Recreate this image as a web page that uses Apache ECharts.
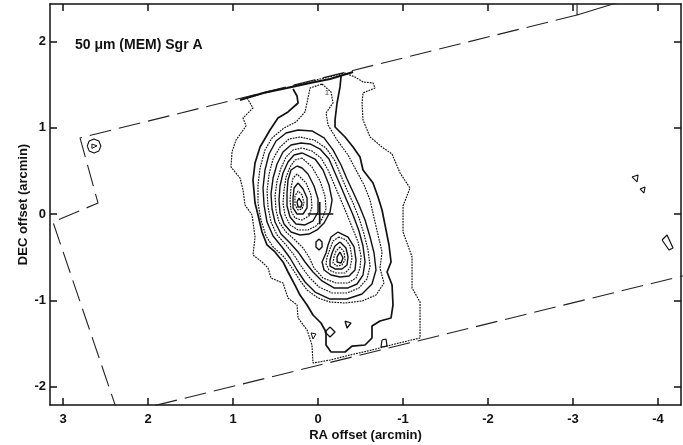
<!DOCTYPE html>
<html>
<head>
<meta charset="utf-8">
<script src="https://cdn.jsdelivr.net/npm/echarts@6/dist/echarts.min.js"></script>
<style>
  html, body { margin: 0; padding: 0; background: #fff; }
  #chart { width: 683px; height: 445px; }
</style>
</head>
<body>
<div id="chart"></div>
<script>
// Axis ticks and extents (arcmin offsets from Sgr A*)
const raTicks = [3, 2, 1, 0, -1, -2, -3, -4];
const decTicks = [2, 1, 0, -1, -2];
const raRange = [-4.27, 3.153];
const decRange = [-2.213, 2.433];

// Edge of the mapped field (dashed outline)
const fieldEdge = [[-3.047, 2.306], [2.80, 0.881], [2.588, 0.127], [3.118, -0.093], [2.349, -2.323], [-4.494, -0.667]];
const fieldCorner = [[-3.047, 2.60], [-3.047, 2.306], [-3.47, 2.433], [-3.65, 2.49]];

// Contours of 50 micron emission, outermost first: [RA, DEC]
const level1 = [[0.835,1.344],[0.765,1.228],[0.882,1.112],[0.847,1.020],[0.965,0.857],[1.012,0.718],[1.024,0.545],[0.918,0.417],[0.882,0.278],[0.859,0.104],[0.776,-0.012],[0.741,-0.267],[0.765,-0.475],[0.659,-0.556],[0.588,-0.626],[0.553,-0.742],[0.412,-0.800],[0.353,-0.973],[0.247,-1.054],[0.235,-1.205],[0.129,-1.344],[0.071,-1.518],[0.059,-1.727],[-0.141,-1.692],[-0.376,-1.634],[-0.635,-1.576],[-0.906,-1.506],[-1.2,-1.437],[-1.2,-1.020],[-1.106,-0.857],[-1.106,-0.498],[-1.0,-0.209],[-1.0,0.093],[-1.082,0.301],[-0.965,0.475],[-0.871,0.695],[-0.753,0.776],[-0.612,0.892],[-0.529,1.089],[-0.518,1.286],[-0.529,1.402],[-0.671,1.460],[-0.647,1.518],[-0.529,1.530],[-0.435,1.587],[-0.318,1.634],[-0.024,1.564],[0.329,1.472],[0.624,1.402]];
const edgeRidge = [[0.918,1.321],[0.647,1.402],[0.365,1.460],[0.094,1.518],[-0.141,1.564],[-0.412,1.645]];
const level2 = [[0.294,1.448],[0.247,1.367],[0.235,1.286],[0.353,1.182],[0.471,1.112],[0.565,0.973],[0.682,0.776],[0.741,0.591],[0.765,0.394],[0.741,0.127],[0.706,-0.012],[0.659,-0.209],[0.600,-0.359],[0.506,-0.440],[0.412,-0.556],[0.353,-0.672],[0.271,-0.823],[0.212,-0.939],[0.129,-1.054],[0.059,-1.170],[-0.035,-1.263],[-0.094,-1.367],[-0.094,-1.518],[-0.153,-1.599],[-0.318,-1.599],[-0.4,-1.530],[-0.553,-1.518],[-0.635,-1.437],[-0.635,-1.298],[-0.729,-1.240],[-0.859,-1.205],[-0.882,-1.054],[-0.871,-0.823],[-0.812,-0.672],[-0.859,-0.556],[-0.835,-0.359],[-0.788,-0.127],[-0.753,0.046],[-0.706,0.197],[-0.647,0.359],[-0.529,0.510],[-0.494,0.660],[-0.412,0.776],[-0.318,0.892],[-0.2,1.008],[-0.2,1.089],[-0.224,1.286],[-0.259,1.472],[-0.271,1.599]];
const level3 = [[-0.047,1.506],[-0.153,1.414],[-0.176,1.286],[-0.094,1.170],[-0.118,1.031],[-0.224,0.857],[-0.353,0.684],[-0.447,0.510],[-0.541,0.336],[-0.612,0.162],[-0.659,-0.046],[-0.706,-0.243],[-0.753,-0.440],[-0.729,-0.626],[-0.776,-0.800],[-0.682,-0.939],[-0.518,-1.008],[-0.318,-1.031],[-0.141,-1.020],[0,-0.973],[0.129,-0.881],[0.224,-0.753],[0.306,-0.626],[0.4,-0.498],[0.529,-0.382],[0.612,-0.255],[0.671,-0.070],[0.706,0.127],[0.706,0.336],[0.682,0.533],[0.624,0.742],[0.541,0.881],[0.4,0.997],[0.259,1.066],[0.153,1.182],[0.118,1.344],[0.094,1.460]];
const level4 = [[0.235,0.973],[0.376,0.939],[0.494,0.846],[0.576,0.695],[0.624,0.510],[0.647,0.301],[0.635,0.104],[0.600,-0.093],[0.529,-0.255],[0.424,-0.382],[0.329,-0.510],[0.247,-0.649],[0.153,-0.788],[0.035,-0.904],[-0.141,-0.985],[-0.341,-0.985],[-0.518,-0.927],[-0.635,-0.811],[-0.682,-0.649],[-0.659,-0.452],[-0.612,-0.267],[-0.553,-0.070],[-0.482,0.104],[-0.412,0.255],[-0.341,0.406],[-0.271,0.568],[-0.176,0.742],[-0.071,0.881],[0.071,0.962]];
const level5 = [[0.212,0.892],[0.341,0.869],[0.447,0.776],[0.529,0.637],[0.576,0.463],[0.600,0.267],[0.588,0.081],[0.553,-0.093],[0.482,-0.243],[0.376,-0.359],[0.282,-0.475],[0.200,-0.603],[0.106,-0.730],[-0.012,-0.846],[-0.165,-0.915],[-0.341,-0.915],[-0.482,-0.857],[-0.576,-0.753],[-0.612,-0.603],[-0.588,-0.417],[-0.541,-0.232],[-0.482,-0.046],[-0.412,0.127],[-0.341,0.278],[-0.271,0.440],[-0.2,0.614],[-0.094,0.765],[0.047,0.857]];
const level6 = [[0.200,0.823],[0.318,0.800],[0.412,0.718],[0.482,0.579],[0.529,0.417],[0.553,0.232],[0.541,0.058],[0.506,-0.093],[0.435,-0.232],[0.329,-0.336],[0.235,-0.440],[0.153,-0.556],[0.059,-0.672],[-0.047,-0.776],[-0.188,-0.857],[-0.353,-0.857],[-0.459,-0.811],[-0.529,-0.707],[-0.553,-0.556],[-0.529,-0.371],[-0.482,-0.197],[-0.412,-0.012],[-0.341,0.151],[-0.271,0.313],[-0.2,0.475],[-0.129,0.637],[-0.024,0.753],[0.094,0.811]];
const level7 = [[0.188,0.765],[0.294,0.742],[0.376,0.660],[0.435,0.533],[0.482,0.382],[0.506,0.209],[0.494,0.046],[0.459,-0.093],[0.376,-0.209],[0.271,-0.301],[0.176,-0.394],[0.106,-0.498],[0.047,-0.626],[-0.059,-0.742],[-0.212,-0.800],[-0.353,-0.800],[-0.447,-0.742],[-0.494,-0.626],[-0.506,-0.487],[-0.471,-0.324],[-0.4,-0.151],[-0.329,0.023],[-0.259,0.185],[-0.188,0.348],[-0.118,0.510],[-0.035,0.649],[0.071,0.730]];

// Northern peak
const north1 = [[0.188,0.707],[0.282,0.684],[0.353,0.603],[0.412,0.475],[0.447,0.324],[0.459,0.162],[0.447,0.012],[0.400,-0.116],[0.318,-0.209],[0.212,-0.243],[0.106,-0.232],[0.012,-0.185],[-0.071,-0.104],[-0.141,0.023],[-0.165,0.162],[-0.129,0.336],[-0.059,0.510],[0.035,0.637]];
const north2 = [[0.188,0.649],[0.271,0.626],[0.329,0.545],[0.376,0.429],[0.400,0.278],[0.412,0.127],[0.388,-0.012],[0.329,-0.127],[0.235,-0.185],[0.118,-0.185],[0.024,-0.139],[-0.047,-0.058],[-0.094,0.058],[-0.082,0.209],[-0.024,0.382],[0.071,0.545]];
const north3 = [[0.247,0.556],[0.318,0.510],[0.353,0.394],[0.365,0.243],[0.365,0.093],[0.329,-0.035],[0.259,-0.116],[0.153,-0.127],[0.059,-0.081],[0,0.023],[0,0.174],[0.047,0.324],[0.118,0.463],[0.188,0.533]];
const north4 = [[0.247,0.463],[0.294,0.417],[0.318,0.301],[0.329,0.162],[0.318,0.035],[0.271,-0.046],[0.188,-0.070],[0.106,-0.023],[0.071,0.081],[0.082,0.220],[0.141,0.359]];
const north5 = [[0.235,0.359],[0.282,0.301],[0.294,0.185],[0.294,0.070],[0.247,0],[0.176,0],[0.129,0.070],[0.129,0.185],[0.176,0.290]];
const north6 = [[0.235,0.267],[0.271,0.209],[0.271,0.104],[0.235,0.046],[0.188,0.058],[0.165,0.127],[0.188,0.220]];
const north7 = [[0.224,0.185],[0.247,0.139],[0.235,0.081],[0.200,0.081],[0.188,0.127]];

// Saddle island between the peaks
const saddle = [[-0.012,-0.290],[0.024,-0.324],[0.024,-0.382],[-0.012,-0.417],[-0.047,-0.382],[-0.047,-0.324]];

// Southern peak
const south1 = [[-0.235,-0.209],[-0.153,-0.267],[-0.118,-0.359],[-0.094,-0.452],[-0.047,-0.556],[-0.071,-0.649],[-0.153,-0.707],[-0.259,-0.730],[-0.365,-0.718],[-0.435,-0.649],[-0.447,-0.533],[-0.424,-0.382],[-0.353,-0.267]];
const south2 = [[-0.247,-0.267],[-0.176,-0.313],[-0.141,-0.406],[-0.106,-0.498],[-0.094,-0.579],[-0.129,-0.649],[-0.212,-0.684],[-0.318,-0.684],[-0.376,-0.626],[-0.4,-0.510],[-0.376,-0.371],[-0.329,-0.301]];
const south3 = [[-0.259,-0.324],[-0.2,-0.371],[-0.165,-0.452],[-0.141,-0.533],[-0.141,-0.603],[-0.2,-0.637],[-0.282,-0.637],[-0.341,-0.591],[-0.353,-0.498],[-0.329,-0.394]];
const south4 = [[-0.259,-0.382],[-0.212,-0.429],[-0.188,-0.498],[-0.176,-0.568],[-0.224,-0.603],[-0.282,-0.591],[-0.318,-0.533],[-0.306,-0.440]];
const south5 = [[-0.259,-0.440],[-0.224,-0.498],[-0.224,-0.556],[-0.271,-0.568],[-0.294,-0.510]];

// Small isolated contours
const blobTriA = [[0.082,-1.378],[0.024,-1.390],[0.059,-1.448]];
const blobDiamond = [[-0.141,-1.309],[-0.2,-1.367],[-0.141,-1.425],[-0.082,-1.367]];
const blobTriB = [[-0.318,-1.240],[-0.388,-1.263],[-0.341,-1.321]];
const blobSquare = [[-0.753,-1.460],[-0.8,-1.448],[-0.812,-1.530],[-0.741,-1.541]];
const blobRing = [[2.715,0.788],[2.692,0.845],[2.635,0.868],[2.578,0.845],[2.555,0.788],[2.578,0.731],[2.635,0.708],[2.692,0.731]];
const blobRingCore = [[2.66,0.81],[2.60,0.79],[2.66,0.76]];
const blobEastA = [[-3.694,0.429],[-3.765,0.452],[-3.753,0.371]];
const blobEastB = [[-3.788,0.290],[-3.847,0.313],[-3.835,0.243]];
const blobEastC = [[-4.047,-0.301],[-4.106,-0.243],[-4.176,-0.394],[-4.129,-0.417]];

// Sgr A* position marker and contour label
const markerH = [[0.12, 0], [-0.18, 0]];
const markerV = [[-0.02, 0.14], [-0.02, -0.12]];
const contourLabel = [[-0.106, 1.402, '1']];

const ink = '#111';
const fontFamily = '"Liberation Sans", Arial, Helvetica, sans-serif';

function ring(points) { return points.concat([points[0]]); }
function contour(points, dotted, closed, width) {
  return {
    type: 'line',
    data: closed ? ring(points) : points,
    symbol: 'none',
    silent: true,
    animation: false,
    z: 3,
    lineStyle: {
      color: ink,
      width: width || (dotted ? 1.15 : 1.4),
      type: dotted ? [1.8, 1] : 'solid'
    }
  };
}

const series = [
  {
    type: 'line', data: fieldEdge, symbol: 'none', silent: true, z: 2,
    lineStyle: { color: '#222', width: 1.1, type: [22, 8] }
  },
  {
    type: 'line', data: fieldCorner, symbol: 'none', silent: true, z: 2,
    lineStyle: { color: '#222', width: 1.1 }
  },
  contour(level1, true, true),
  contour(edgeRidge, false, false, 2),
  contour(level2, false, false, 1.7),
  contour(level3, true, true),
  contour(level4, false, true),
  contour(level5, true, true),
  contour(level6, false, true),
  contour(level7, true, true),
  contour(north1, false, true),
  contour(north2, true, true),
  contour(north3, false, true),
  contour(north4, true, true),
  contour(north5, false, true),
  contour(north6, true, true),
  contour(north7, false, true),
  contour(saddle, false, true),
  contour(south1, false, true),
  contour(south2, true, true),
  contour(south3, false, true),
  contour(south4, true, true),
  contour(south5, false, true),
  contour(blobTriA, false, true, 1),
  contour(blobDiamond, false, true, 1.3),
  contour(blobTriB, false, true, 1.3),
  contour(blobSquare, false, true, 1.2),
  contour(blobRing, false, true, 1.1),
  contour(blobRingCore, false, true, 1),
  contour(blobEastA, false, true, 1.1),
  contour(blobEastB, false, true, 1.1),
  contour(blobEastC, false, true, 1.2),
  contour(markerH, false, false, 1.7),
  contour(markerV, false, false, 1.7),
  {
    type: 'scatter', data: contourLabel, symbol: 'circle', symbolSize: 2, silent: true, z: 4,
    itemStyle: { color: 'rgba(255,255,255,0)' },
    label: {
      show: true, position: 'inside', formatter: (p) => p.data[2],
      fontSize: 8, color: ink, fontFamily: fontFamily
    }
  }
];

const tickFont = { fontFamily: fontFamily, fontWeight: 'bold', fontSize: 13, color: '#111' };
const axisLine = { show: true, onZero: false, lineStyle: { color: '#111', width: 1.5 } };

const chart = echarts.init(document.getElementById('chart'), null, { renderer: 'canvas' });
chart.setOption({
  animation: false,
  backgroundColor: '#fff',
  grid: { left: 50, right: 2, top: 4, bottom: 40, containLabel: false, outerBoundsMode: 'none' },
  graphic: [{
    type: 'text', left: 75, top: 38,
    style: { text: '50 \u03bcm (MEM) Sgr A', fontFamily: fontFamily, fontWeight: 'bold', fontSize: 14, fill: '#111' }
  }],
  xAxis: [
    {
      type: 'value', position: 'bottom', inverse: true, min: raRange[0], max: raRange[1],
      axisLine: axisLine,
      axisTick: { show: true, inside: true, length: 7, customValues: raTicks, lineStyle: { color: '#111', width: 1.5 } },
      axisLabel: Object.assign({ show: true, margin: 8, customValues: raTicks }, tickFont),
      splitLine: { show: false },
      name: 'RA offset (arcmin)', nameLocation: 'middle', nameGap: 24, nameMoveOverlap: false,
      nameTextStyle: { fontFamily: fontFamily, fontWeight: 'bold', fontSize: 13, color: '#111' }
    },
    {
      type: 'value', position: 'top', inverse: true, min: raRange[0], max: raRange[1],
      axisLine: axisLine,
      axisTick: { show: true, inside: true, length: 7, customValues: raTicks, lineStyle: { color: '#111', width: 1.5 } },
      axisLabel: { show: false },
      splitLine: { show: false }
    }
  ],
  yAxis: [
    {
      type: 'value', position: 'left', min: decRange[0], max: decRange[1],
      axisLine: axisLine,
      axisTick: { show: true, inside: true, length: 7, customValues: decTicks, lineStyle: { color: '#111', width: 1.5 } },
      axisLabel: Object.assign({ show: true, margin: 4, customValues: decTicks }, tickFont),
      splitLine: { show: false },
      name: 'DEC offset (arcmin)', nameLocation: 'middle', nameGap: 20, nameRotate: 90, nameMoveOverlap: false,
      nameTextStyle: { fontFamily: fontFamily, fontWeight: 'bold', fontSize: 13, color: '#111' }
    },
    {
      type: 'value', position: 'right', min: decRange[0], max: decRange[1],
      axisLine: axisLine,
      axisTick: { show: true, inside: true, length: 7, customValues: decTicks, lineStyle: { color: '#111', width: 1.5 } },
      axisLabel: { show: false },
      splitLine: { show: false }
    }
  ],
  series: series
});
</script>
</body>
</html>
